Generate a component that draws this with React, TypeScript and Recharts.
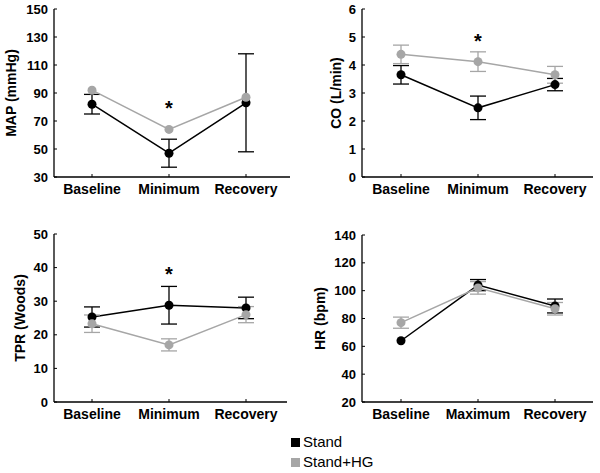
import { LineChart, Line, XAxis, YAxis, ErrorBar, ReferenceDot } from "recharts";

const minCategories = ["Baseline", "Minimum", "Recovery"];
const maxCategories = ["Baseline", "Maximum", "Recovery"];

// MAP (mmHg)
const mapStand = [82, 47, 83];
const mapStandErr = [7, 10, 35];
const mapHg = [92, 64, 87];
const mapTicks = [30, 50, 70, 90, 110, 130, 150];

// CO (L/min)
const coStand = [3.65, 2.47, 3.3];
const coStandErr = [0.33, 0.42, 0.22];
const coHg = [4.38, 4.12, 3.65];
const coHgErr = [0.33, 0.35, 0.3];
const coTicks = [0, 1, 2, 3, 4, 5, 6];

// TPR (Woods)
const tprStand = [25.3, 28.8, 28.0];
const tprStandErr = [3, 5.6, 3.2];
const tprHg = [23.3, 17, 26];
const tprHgErr = [2.6, 1.8, 2.4];
const tprTicks = [0, 10, 20, 30, 40, 50];

// HR (bpm)
const hrStand = [64, 104, 89];
const hrStandErr = [0, 4, 5];
const hrHg = [77, 102, 87];
const hrHgErr = [4, 4.5, 4.5];
const hrTicks = [20, 40, 60, 80, 100, 120, 140];

// significance marks (value where the asterisk sits)
const mapStar = 82;
const coStar = 5;
const tprStar = 39.3;

const BLACK = "#000000";
const GRAY = "#a6a6a6";
const FONT = "'Liberation Sans', Arial, sans-serif";
const CHART_W = 300;
const CHART_H = 215;

type Panel = {
  title: string;
  cats: string[];
  stand: number[];
  standErr: number[];
  hg: number[];
  hgErr: number[] | null;
  ticks: number[];
  star: number | null;
  left: number;
  top: number;
  axisX: number;
  plotTop: number;
  plotBottom: number;
  plotRight: number;
  padL: number;
  padR: number;
  titleX: number;
};

const panels: Panel[] = [
  {
    title: "MAP (mmHg)", cats: minCategories, stand: mapStand, standErr: mapStandErr,
    hg: mapHg, hgErr: null, ticks: mapTicks, star: mapStar,
    left: 0, top: 0, axisX: 54, plotTop: 9, plotBottom: 177, plotRight: 290, padL: 38, padR: 44, titleX: 16,
  },
  {
    title: "CO (L/min)", cats: minCategories, stand: coStand, standErr: coStandErr,
    hg: coHg, hgErr: coHgErr, ticks: coTicks, star: coStar,
    left: 300, top: 0, axisX: 62, plotTop: 9, plotBottom: 177, plotRight: 293, padL: 39, padR: 38, titleX: 41,
  },
  {
    title: "TPR (Woods)", cats: minCategories, stand: tprStand, standErr: tprStandErr,
    hg: tprHg, hgErr: tprHgErr, ticks: tprTicks, star: tprStar,
    left: 0, top: 220, axisX: 54, plotTop: 14, plotBottom: 182, plotRight: 287, padL: 38, padR: 41, titleX: 25,
  },
  {
    title: "HR (bpm)", cats: maxCategories, stand: hrStand, standErr: hrStandErr,
    hg: hrHg, hgErr: hrHgErr, ticks: hrTicks, star: null,
    left: 300, top: 220, axisX: 62, plotTop: 15, plotBottom: 182, plotRight: 293, padL: 39, padR: 38, titleX: 25,
  },
];

function AxisTitle({ viewBox, titleText, titleX }: any) {
  const cy = viewBox.y + viewBox.height / 2;
  return (
    <text
      x={titleX}
      y={cy}
      transform={`rotate(-90 ${titleX} ${cy})`}
      textAnchor="middle"
      fontFamily={FONT}
      fontWeight="bold"
      fontSize={14}
      fill={BLACK}
    >
      {titleText}
    </text>
  );
}

function Star({ viewBox }: any) {
  const cx = viewBox.x + viewBox.width / 2;
  const cy = viewBox.y + viewBox.height / 2;
  return (
    <text x={cx} y={cy + 11} textAnchor="middle" fontFamily={FONT} fontWeight="bold" fontSize={20} fill={BLACK}>
      *
    </text>
  );
}

function PanelChart({ p }: { p: Panel }) {
  const data = p.cats.map((cat, i) => ({
    cat,
    stand: p.stand[i],
    standErr: p.standErr[i],
    hg: p.hg[i],
    hgErr: p.hgErr ? p.hgErr[i] : 0,
  }));
  const domain = [p.ticks[0], p.ticks[p.ticks.length - 1]];
  return (
    <div style={{ position: "absolute", left: p.left, top: p.top }}>
      <LineChart
        width={CHART_W}
        height={CHART_H}
        data={data}
        margin={{ top: p.plotTop, right: CHART_W - p.plotRight, left: 0, bottom: 0 }}
      >
        <XAxis
          dataKey="cat"
          interval={0}
          height={CHART_H - p.plotBottom}
          padding={{ left: p.padL, right: p.padR }}
          axisLine={{ stroke: BLACK, strokeWidth: 1.3 }}
          tickLine={{ stroke: BLACK, strokeWidth: 1 }}
          tickSize={-3}
          tickMargin={10}
          tick={{ fill: BLACK, fontSize: 14, fontWeight: "bold", fontFamily: FONT }}
        />
        <YAxis
          width={p.axisX}
          domain={domain}
          ticks={p.ticks}
          interval={0}
          axisLine={{ stroke: BLACK, strokeWidth: 1.3 }}
          tickLine={{ stroke: BLACK, strokeWidth: 1 }}
          tickSize={-3}
          tickMargin={9}
          tick={{ fill: BLACK, fontSize: 13, fontWeight: "bold", fontFamily: FONT }}
          label={<AxisTitle titleText={p.title} titleX={p.titleX} />}
        />
        <Line
          dataKey="stand"
          stroke={BLACK}
          strokeWidth={1.5}
          dot={{ r: 4.5, fill: BLACK, stroke: BLACK, strokeWidth: 0 }}
          activeDot={false}
          isAnimationActive={false}
        >
          <ErrorBar dataKey="standErr" width={8} stroke={BLACK} strokeWidth={1.3} />
        </Line>
        <Line
          dataKey="hg"
          stroke={GRAY}
          strokeWidth={1.5}
          dot={{ r: 4.5, fill: GRAY, stroke: GRAY, strokeWidth: 0 }}
          activeDot={false}
          isAnimationActive={false}
        >
          {p.hgErr && <ErrorBar dataKey="hgErr" width={8} stroke={GRAY} strokeWidth={1.3} />}
        </Line>
        {p.star !== null && (
          <ReferenceDot x={p.cats[1]} y={p.star} r={0} fill="none" stroke="none" label={<Star />} />
        )}
      </LineChart>
    </div>
  );
}

const legendItems = [
  { name: "Stand", color: BLACK },
  { name: "Stand+HG", color: GRAY },
];

export default function App() {
  return (
    <div style={{ position: "absolute", left: 0, top: 0, width: 600, height: 473, background: "#fff" }}>
      {panels.map((p) => (
        <PanelChart key={p.title} p={p} />
      ))}
      <div style={{ position: "absolute", left: 291, top: 432, fontFamily: FONT, fontSize: 15, color: BLACK }}>
        {legendItems.map((item) => (
          <div key={item.name} style={{ display: "flex", alignItems: "center", height: 20, lineHeight: "20px" }}>
            <span style={{ display: "inline-block", width: 9, height: 9, background: item.color, marginRight: 3 }} />
            <span>{item.name}</span>
          </div>
        ))}
      </div>
    </div>
  );
}
